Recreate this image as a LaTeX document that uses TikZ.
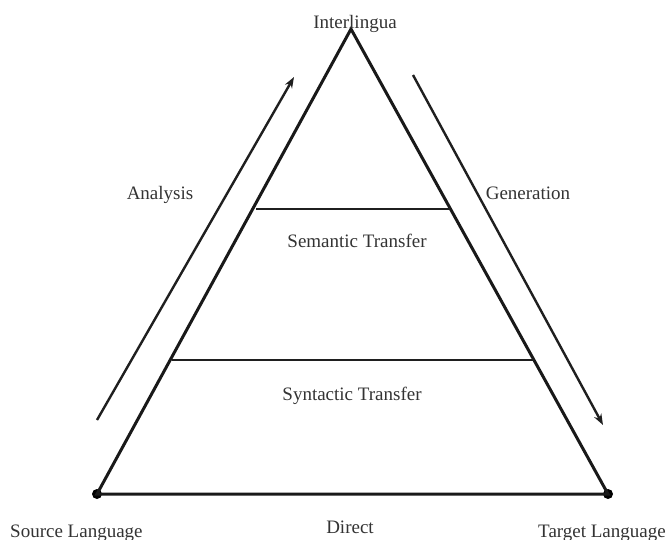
\documentclass[tikz,border=0pt]{standalone}
\usepackage{fontspec}
\setmainfont{Liberation Serif}
\usetikzlibrary{arrows.meta,calc}
\begin{document}
\begin{tikzpicture}[x=1pt,y=-1pt,
  edge/.style={line width=3pt,draw=black!90,line join=miter},
  level/.style={line width=2.6pt,draw=black!88},
  flow/.style={line width=2.4pt,draw=black!88,-{Stealth[length=11pt,width=8pt]}},
  lbl/.style={font=\fontsize{19}{21}\selectfont,text=black!80,inner sep=0pt},
  dot/.style={circle,fill=black,inner sep=0pt,minimum size=10pt}]
\useasboundingbox (0,0) rectangle (672,539);
\coordinate (apex) at (351,29);
\node[dot] (src) at (97,494) {};
\node[dot] (tgt) at (608,494) {};
\draw[edge] (src.center) -- (apex) -- (tgt.center) -- cycle;
\coordinate (s1) at (256,209);
\coordinate (s2) at (450,209);
\coordinate (t1) at (172,360);
\coordinate (t2) at (534,360);
\draw[level] (s1) -- (s2);
\draw[level] (t1) -- (t2);
\coordinate (a1) at (97,420);
\coordinate (a2) at (294,77);
\coordinate (g1) at (413,75);
\coordinate (g2) at (603,425);
\draw[flow] (a1) -- (a2);
\draw[flow] (g1) -- (g2);
\node[lbl,anchor=base] (inter) at (355,28) {Interlingua};
\node[lbl,anchor=base] (ana) at (160,199) {Analysis};
\node[lbl,anchor=base] (gen) at (528,199) {Generation};
\node[lbl,anchor=base] (sem) at (357,247) {Semantic Transfer};
\node[lbl,anchor=base] (syn) at (352,400) {Syntactic Transfer};
\node[lbl,anchor=base west] (srcl) at (10,537) {Source Language};
\node[lbl,anchor=base] (dir) at (350,533) {Direct};
\node[lbl,anchor=base west] (tgtl) at (538,537) {Target Language};
\end{tikzpicture}
\end{document}
